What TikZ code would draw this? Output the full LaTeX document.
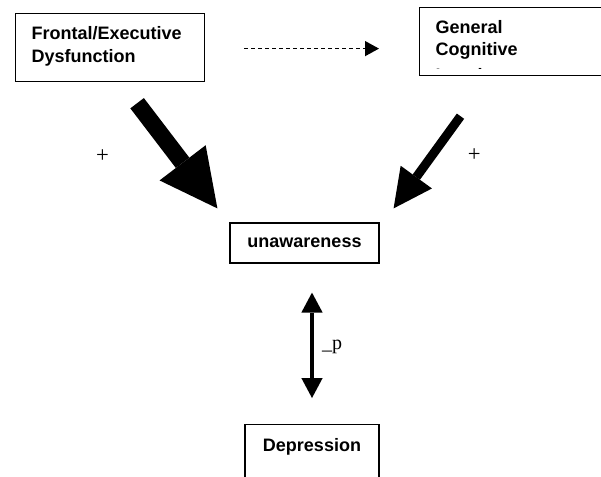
\documentclass[tikz,border=0pt]{standalone}
\usepackage{fontspec}
\newfontfamily\boxfont{Liberation Sans}
\newfontfamily\signfont{Liberation Serif}
\usepackage{tikz}
\usetikzlibrary{arrows.meta, positioning, calc}

\tikzset{
  factorbox/.style={draw, line width=0.9pt, inner ysep=0pt, font=\boxfont\bfseries\fontsize{13.5}{17.5}\selectfont},
  bigarrow/.style={line width=#1, line cap=butt},
  signlabel/.style={font=\signfont\fontsize{17}{19}\selectfont, inner sep=0pt}
}

\begin{document}
\begin{tikzpicture}[x=0.75pt, y=-0.75pt, style={line join=miter}]

  \useasboundingbox (0,0) rectangle (601,476);

  % boxes
  \node[factorbox, anchor=north west, inner xsep=12pt, text width=117.75pt, align=left,
        text height=19.5pt, text depth=31.5pt] (frontal) at (15,13) {Frontal/Executive\\Dysfunction};
  \node[factorbox, anchor=north west, inner xsep=12pt, text width=138pt, align=left,
        font=\boxfont\bfseries\fontsize{13.5}{16.2}\selectfont,
        text height=19.5pt, text depth=31.5pt] (general) at (419,7) {General\\Cognitive};
  \begin{scope}
    \clip (general.north west) rectangle ([shift={(0,-7.5)}]general.south east);
    \node[factorbox, draw=none, anchor=north west, inner xsep=0pt, text height=9.75pt, text depth=0pt]
      (generalmore) at ([shift={(16,60.5)}]general.north west) {Impairment};
  \end{scope}
  \node[factorbox, minimum width=111.75pt, minimum height=30pt] (unaware) at (304.5,243) {unawareness};
  \node[factorbox, anchor=north, minimum width=100.5pt, text height=20.25pt, text depth=45pt] (depression) at (312,424) {Depression};

  % connectors
  \coordinate (dashstart) at ([shift={(39,1)}]frontal.east);
  \coordinate (dashend) at ([shift={(-40,0)}]general.west |- dashstart);
  \draw[line width=1pt, dash pattern=on 3pt off 2.25pt, -{Triangle[length=10.5pt, width=11.25pt]}] (dashstart) -- (dashend);

  \coordinate (leftstart) at ([shift={(27,21)}]frontal.south);
  \coordinate (lefttip) at ([shift={(-12,-14)}]unaware.north west);
  \draw[bigarrow=12.75pt, -{Triangle[length=43pt, width=43.5pt, line width=0pt]}] (leftstart) -- (lefttip)
    node[signlabel, midway, xshift=-56pt] (plusleft) {+};

  \coordinate (rightstart) at ([shift={(41.5,40)}]general.south west);
  \coordinate (righttip) at ([shift={(14,-14)}]unaware.north east);
  \draw[bigarrow=6.75pt, -{Triangle[length=29pt, width=29pt, line width=0pt]}] (rightstart) -- (righttip)
    node[signlabel, midway, xshift=35.4pt, yshift=5.25pt] (plusright) {+};

  \coordinate (mutualtop) at ([shift={(7.5,29)}]unaware.south);
  \coordinate (mutualbottom) at ([shift={(0,-26)}]depression.north);
  \draw[line width=3pt, {Triangle[length=15pt, width=16pt, line width=0pt]}-{Triangle[length=15pt, width=16pt, line width=0pt]}] (mutualtop) -- (mutualbottom)
    node[signlabel, midway, anchor=west, xshift=6pt, yshift=-1pt, font=\signfont\fontsize{15}{17}\selectfont] (corr) {\_p};

\end{tikzpicture}
\end{document}
